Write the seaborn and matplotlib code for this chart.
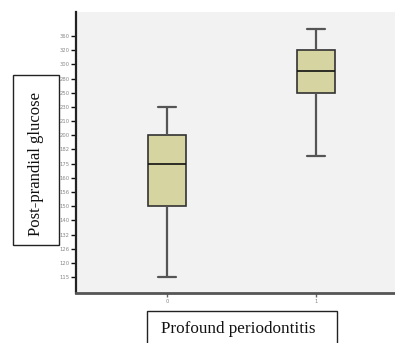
import numpy as np
import pandas as pd
import matplotlib
matplotlib.use("Agg")
import matplotlib.pyplot as plt
from matplotlib.patches import Rectangle
import seaborn as sns

# ---- data ----
groups = ["0", "1"]
# five-number summaries (min, Q1, median, Q3, max) per group
group0 = [115, 150, 175, 200, 230]
group1 = [179, 250, 290, 320, 380]
tick_values = [115, 120, 126, 132, 140, 150, 156, 160, 175, 182,
               200, 210, 230, 250, 280, 300, 320, 360]
tick_labels = [str(t) for t in tick_values]

df = pd.DataFrame({
    "group": ["0"] * len(group0) + ["1"] * len(group1),
    "value": group0 + group1,
})

# piecewise-linear (evenly spaced ticks) axis, as in the source
tv = np.array(tick_values, float)
ti = np.arange(len(tv), dtype=float)

def fwd(v):
    v = np.asarray(v, float)
    shp = v.shape
    v = np.atleast_1d(v)
    out = np.interp(v, tv, ti)
    lo = v < tv[0]
    hi = v > tv[-1]
    out[lo] = (v[lo] - tv[0]) / (tv[1] - tv[0])
    out[hi] = ti[-1] + (v[hi] - tv[-1]) / (tv[-1] - tv[-2])
    return out.reshape(shp)

def inv(i):
    i = np.asarray(i, float)
    shp = i.shape
    i = np.atleast_1d(i)
    out = np.interp(i, ti, tv)
    lo = i < ti[0]
    hi = i > ti[-1]
    out[lo] = tv[0] + i[lo] * (tv[1] - tv[0])
    out[hi] = tv[-1] + (i[hi] - ti[-1]) * (tv[-1] - tv[-2])
    return out.reshape(shp)

sns.set_style("white")
plt.rcParams["font.family"] = ["DejaVu Sans"]

fig = plt.figure(figsize=(3.95, 3.43), dpi=100)
ax = fig.add_axes([76 / 395, 1 - 293 / 343, 1 - 76 / 395, (293 - 12) / 343])
ax.set_facecolor("#f2f2f2")

sns.boxplot(
    data=df, x="group", y="value", order=groups, ax=ax,
    whis=(0, 100), width=0.25, color="#d6d4a0", saturation=1,
    linewidth=1.2, linecolor="#333333",
    whiskerprops=dict(color="#555555", linewidth=1.6),
    capprops=dict(color="#555555", linewidth=1.6),
    medianprops=dict(color="#111111", linewidth=1.2),
    showfliers=False,
)

ax.set_yscale("function", functions=(fwd, inv))
ax.set_ylim(109.4, 427.6)
ax.set_xlim(-0.61, 1.53)
ax.set_yticks(tick_values)
ax.set_yticklabels(tick_labels)
ax.minorticks_off()
ax.tick_params(axis="y", direction="out", length=3.5, width=1, color="#111111",
               labelsize=3.8, labelcolor="#888888", pad=1, left=True)
ax.tick_params(axis="x", direction="out", length=3, width=1, color="#666666",
               labelsize=3.8, labelcolor="#888888", pad=1, bottom=True)
ax.set_xlabel("")
ax.set_ylabel("")

for s in ["top", "right"]:
    ax.spines[s].set_visible(False)
ax.spines["left"].set_color("#222222")
ax.spines["left"].set_linewidth(1.6)
ax.spines["bottom"].set_color("#555555")
ax.spines["bottom"].set_linewidth(2.0)

# boxed axis titles
fig.patches.append(Rectangle((13 / 395, 1 - 245 / 343), 46 / 395, 170 / 343,
                             transform=fig.transFigure, fill=False,
                             edgecolor="#222222", linewidth=1.0))
fig.text(36 / 395, 1 - 164 / 343, "Post-prandial glucose", rotation=90,
         ha="center", va="center", fontsize=12, family="Liberation Serif",
         color="#111111")

fig.patches.append(Rectangle((147 / 395, -0.02), 190 / 395, (345 - 313) / 343 + 0.02,
                             transform=fig.transFigure, fill=False,
                             edgecolor="#222222", linewidth=1.0))
fig.text(238 / 395, 1 - 329 / 343, "Profound periodontitis",
         ha="center", va="center", fontsize=12.3, family="Liberation Serif",
         color="#111111")

fig.savefig("out.png", dpi=100)
